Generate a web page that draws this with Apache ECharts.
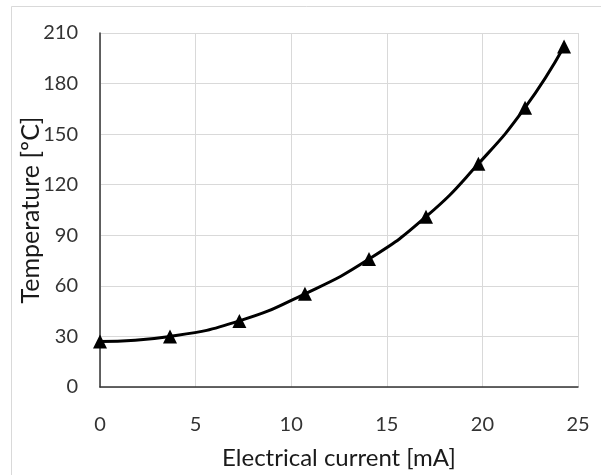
<!DOCTYPE html>
<html><head><meta charset="utf-8">
<script src="https://cdn.jsdelivr.net/npm/echarts@6/dist/echarts.min.js"></script>
<style>html,body{margin:0;padding:0;background:#fff}#c{width:601px;height:475px}</style>
</head><body><div id="c"></div>
<script>
var currents = [0, 3.66, 7.29, 10.72, 14.07, 17.05, 19.79, 22.23, 24.27];
var temperatures = [27, 30, 39.2, 55.3, 75.9, 101, 132.4, 165.7, 202];
var xTicks = [0, 5, 10, 15, 20, 25];
var yTicks = [0, 30, 60, 90, 120, 150, 180, 210];

var font = 'Lato';
var chart = echarts.init(document.getElementById('c'), null, {renderer: 'canvas'});
chart.setOption({
  animation: false,
  backgroundColor: '#fff',
  graphic: [{type: 'rect', shape: {x: 11.5, y: 6.5, width: 620, height: 500},
    style: {fill: 'none', stroke: '#d9d9d9', lineWidth: 1}, z: -1}],
  grid: {left: 100, top: 33, right: 23, bottom: 85},
  xAxis: {
    type: 'value', min: xTicks[0], max: xTicks[xTicks.length - 1], interval: 5,
    name: 'Electrical current [mA]', nameLocation: 'middle', nameGap: 59,
    nameMoveOverlap: false,
    nameTextStyle: {fontFamily: font, fontSize: 24, color: '#1a1a1a'},
    axisLine: {show: true, lineStyle: {color: '#333', width: 1.5}},
    axisTick: {show: false},
    axisLabel: {fontFamily: font, fontSize: 20, color: '#333', margin: 28},
    splitLine: {show: true, lineStyle: {color: '#d9d9d9', width: 1}}
  },
  yAxis: {
    type: 'value', min: yTicks[0], max: yTicks[yTicks.length - 1], interval: 30,
    name: 'Temperature [ºC]', nameLocation: 'middle', nameGap: 57,
    nameMoveOverlap: false,
    nameTextStyle: {fontFamily: font, fontSize: 25, color: '#1a1a1a'},
    axisLine: {show: true, lineStyle: {color: '#333', width: 1.5}},
    axisTick: {show: false},
    axisLabel: {fontFamily: font, fontSize: 20, color: '#333', margin: 22},
    splitLine: {show: true, lineStyle: {color: '#d9d9d9', width: 1}}
  },
  series: [{
    type: 'line', smooth: true,
    data: currents.map(function (x, i) { return [x, temperatures[i]]; }),
    symbol: 'triangle', symbolSize: 14,
    itemStyle: {color: '#000'},
    lineStyle: {color: '#000', width: 3}
  }]
});
</script></body></html>
